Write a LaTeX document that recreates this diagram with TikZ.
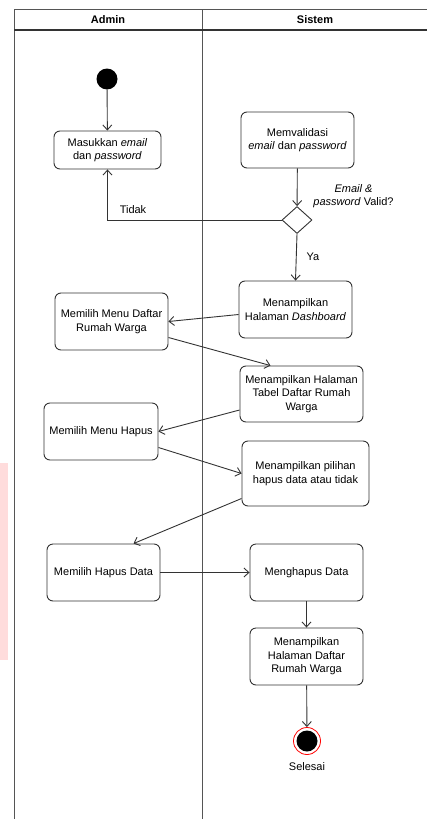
\documentclass[tikz,border=0pt]{standalone}
\usepackage{fontspec}
\setmainfont{Liberation Sans}
\usetikzlibrary{arrows.meta,shapes.geometric}
\definecolor{linec}{HTML}{333333}
\definecolor{lanec}{HTML}{555555}
\definecolor{wm}{HTML}{FFDCDC}
\tikzset{
  act/.style={draw=linec, line width=0.9pt, rounded corners=6pt, fill=white, align=center,
    inner sep=2pt, font=\fontsize{11}{13.5}\selectfont},
  flow/.style={draw=linec, line width=0.9pt, -{Straight Barb[length=5pt,width=9pt]}},
  lab/.style={font=\fontsize{11}{13.5}\selectfont, align=center, inner sep=0pt},
  lane/.style={draw=lanec, line width=0.8pt},
  head/.style={font=\fontsize{11}{12}\selectfont\bfseries, inner sep=0pt}
}
\begin{document}
\begin{tikzpicture}[x=1pt,y=-1pt]
\useasboundingbox (0,0) rectangle (427,819);
\fill[wm] (0,463) rectangle (8,660);
% swimlanes
\draw[lane] (427,9) -- (14,9) -- (14,819);
\draw[lane] (202,9) -- (202,819);
\draw[draw=linec, line width=1.3pt] (14,30) -- (427,30);
\node[head] (hadmin) at (108,20) {Admin};
\node[head] (hsistem) at (315,20) {Sistem};
% nodes
\node[circle, fill=black, minimum size=21pt, inner sep=0pt] (start) at (107,79) {};
\node[act, minimum width=107pt, minimum height=38pt] (masuk) at (107.5,150) {Masukkan \textit{email}\\dan \textit{password}};
\node[act, minimum width=113pt, minimum height=56pt] (valid) at (297.5,140) {Memvalidasi\\\textit{email} dan \textit{password}};
\node[diamond, draw=linec, line width=0.9pt, fill=white, minimum width=30pt, minimum height=27pt, inner sep=0pt] (dec) at (297,220) {};
\node[lab] (qlab) at (353.5,196) {\textit{Email \&}\\\textit{password} Valid?};
\node[act, minimum width=113pt, minimum height=57pt] (dash) at (295.5,309.5) {Menampilkan\\Halaman \textit{Dashboard}};
\node[act, minimum width=113pt, minimum height=57pt] (menu) at (111.5,321.5) {Memilih Menu Daftar\\Rumah Warga};
\node[act, minimum width=123pt, minimum height=56pt] (tabel) at (301.5,394) {Menampilkan Halaman\\Tabel Daftar Rumah\\Warga};
\node[act, minimum width=114pt, minimum height=57pt] (hapus) at (101,431.5) {Memilih Menu Hapus};
\node[act, minimum width=127pt, minimum height=65pt] (pilih) at (305.5,473.5) {Menampilkan pilihan\\hapus data atau tidak};
\node[act, minimum width=113pt, minimum height=57pt] (hdata) at (103.5,572.5) {Memilih Hapus Data};
\node[act, minimum width=113pt, minimum height=57pt] (mdata) at (306.5,572.5) {Menghapus Data};
\node[act, minimum width=113pt, minimum height=57pt] (daftar) at (306.5,656.5) {Menampilkan\\Halaman Daftar\\Rumah Warga};
\node[circle, draw=red, line width=0.8pt, fill=white, minimum size=27pt, inner sep=0pt] (endo) at (307,741) {};
\node[circle, fill=black, minimum size=21pt, inner sep=0pt] (endi) at (307,741) {};
\node[lab] (sel) at (307,767) {Selesai};
% connectors
\draw[flow] (start) -- (masuk);
\draw[flow] (valid) -- (dec);
\draw[flow] (dec.west) -| (masuk.south);
\node[lab] (tidak) at (133,210) {Tidak};
\draw[flow] (dec.south) -- (dash.north);
\node[lab] (ya) at (313,257) {Ya};
\draw[flow] ([yshift=-5pt]dash.west) -- (menu.east);
\draw[flow] ([yshift=-16pt]menu.east) -- ([xshift=-31pt]tabel.north);
\draw[flow] ([yshift=-16pt]tabel.west) -- (hapus.east);
\draw[flow] ([yshift=-16pt]hapus.east) -- (pilih.west);
\draw[flow] ([yshift=-25pt]pilih.west) -- ([xshift=30pt]hdata.north);
\draw[flow] (hdata.east) -- (mdata.west);
\draw[flow] (mdata) -- (daftar);
\draw[flow] (daftar) -- (endo);
\end{tikzpicture}
\end{document}
